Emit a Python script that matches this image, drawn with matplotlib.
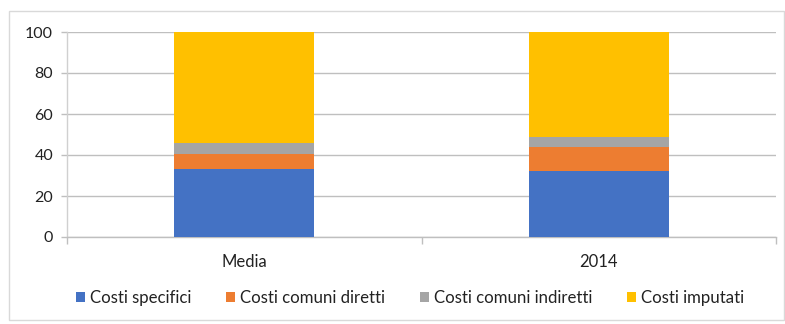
import matplotlib
matplotlib.use("Agg")
import matplotlib.pyplot as plt
from matplotlib.patches import Rectangle
import numpy as np

plt.rcParams['font.family'] = ['Lato', 'DejaVu Sans']

categories = ["Media", "2014"]
series_names = ["Costi specifici", "Costi comuni diretti",
                "Costi comuni indiretti", "Costi imputati"]
costi_specifici = [33.0, 32.0]
costi_comuni_diretti = [7.5, 12.0]
costi_comuni_indiretti = [5.5, 5.0]
costi_imputati = [54.0, 51.0]
y_ticks = [0, 20, 40, 60, 80, 100]

colors = ["#4472C4", "#ED7D31", "#A5A5A5", "#FFC000"]
series = [costi_specifici, costi_comuni_diretti, costi_comuni_indiretti, costi_imputati]

fig = plt.figure(figsize=(7.85, 3.24), dpi=100)
ax = fig.add_axes([67/785, 1 - 237/324, (776 - 67)/785, (237 - 32)/324])

x = np.arange(len(categories))
bottom = np.zeros(len(categories))
for name, vals, c in zip(series_names, series, colors):
    ax.bar(x, vals, width=0.395, bottom=bottom, color=c, label=name, zorder=3)
    bottom += np.array(vals)

ax.set_xlim(-0.5, 1.5)
ax.set_ylim(0, 100)
ax.set_yticks(y_ticks)
ax.set_yticklabels([str(t) for t in y_ticks], fontsize=11.5, color="#222222")
ax.yaxis.grid(True, color="#BFBFBF", linewidth=1.0, zorder=0)
ax.set_xticks(x)
ax.set_xticklabels(categories, fontsize=12, color="#222222")
ax.tick_params(axis='x', length=0, pad=12)
ax.set_xticks([-0.5, 0.5, 1.5], minor=True)
ax.tick_params(axis='x', which='minor', length=5, color="#BFBFBF", width=1)
ax.tick_params(axis='y', length=4, color="#BFBFBF", width=1, pad=6)

for side in ["top", "right"]:
    ax.spines[side].set_visible(False)
ax.spines["left"].set_color("#D0D0D0")
ax.spines["bottom"].set_color("#BFBFBF")
ax.spines["left"].set_linewidth(1.0)
ax.spines["bottom"].set_linewidth(1.0)

leg = fig.legend(loc="center", bbox_to_anchor=(410/785, 1 - 298/324), ncol=4,
                 frameon=False, fontsize=12.1, handlelength=0.55, handleheight=0.55,
                 handletextpad=0.3, columnspacing=2.05)
for t in leg.get_texts():
    t.set_color("#222222")

# outer chart border
fig.patches.append(Rectangle((9/785, 4/324), (784 - 9)/785, (313 - 4)/324,
                             transform=fig.transFigure, fill=False,
                             edgecolor="#D9D9D9", linewidth=1.0))

fig.savefig("out.png", dpi=100)
